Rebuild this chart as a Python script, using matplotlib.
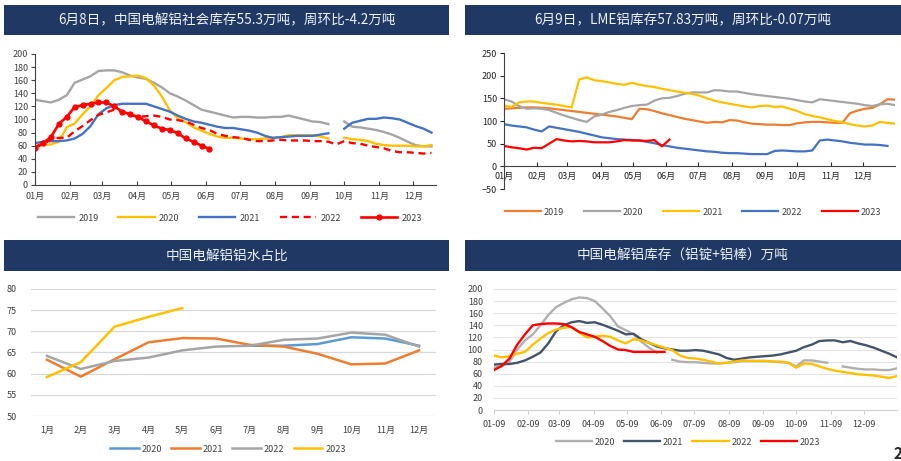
import numpy as np
import pandas as pd
import matplotlib
matplotlib.use('Agg')
import matplotlib.pyplot as plt
import matplotlib.dates as mdates
from matplotlib.patches import Rectangle

plt.rcParams['font.family'] = ['Noto Sans CJK SC', 'DejaVu Sans']
nan = np.nan

# ---- panel 1: China social inventory (weekly, 10k t) ----
p1_2019 = [130, 128, 126, 130, 137, 156, 161, 166, 174, 175, 175, 172, 167, 164, 162, 156, 149, 140, 135, 129,
           122, 115, 112, 109, 106, 103, 104, 104, 103, 103, 104, 104, 106, 103, 100, 97, 96, 93, nan, 97,
           89, 88, 86, 84, 81, 77, 72, 66, 61, 59, 59]
p1_2020 = [60, 61, 62, 66, 88, 94, 108, 120, 137, 148, 160, 165, 166, 167, 163, 152, 135, 114, 102, 96,
           88, 83, 78, 74, 72, 72, 71, 70, 70, 71, 72, 73, 76, 76, 76, 76, 74, 71, nan, 72,
           70, 69, 67, 63, 61, 60, 60, 60, 59, 59, 61]
p1_2021 = [64, 66, 67, 67, 68, 71, 78, 90, 108, 117, 122, 124, 124, 124, 124, 120, 116, 112, 106, 101,
           97, 95, 92, 89, 87, 87, 85, 83, 80, 75, 72, 73, 74, 75, 75, 75, 77, 79, nan, 86,
           95, 98, 101, 101, 103, 102, 100, 95, 90, 86, 80]
p1_2022 = [58, 62, 70, 72, 72, 82, 90, 99, 107, 111, 115, 112, 107, 104, 105, 106, 104, 100, 99, 97,
           92, 87, 84, 78, 75, 73, 72, 69, 67, 67, 68, 69, 68, 68, 68, 67, 67, 66, 62, 67,
           64, 63, 60, 58, 56, 52, 50, 50, 49, 48, 49]
p1_2023 = [57, 64, 73, 93, 104, 119, 122, 124, 126, 126, 120, 112, 108, 104, 97, 91, 86, 84, 79, 71, 66, 60, 55]

# ---- panel 2: LME inventory ----
p2_2019 = [127, 128, 129, 130, 130, 129, 128, 126, 124, 122, 120, 118, 116, 114, 112, 110, 107, 104, 127, 126,
           122, 117, 113, 109, 105, 102, 99, 96, 98, 97, 102, 101, 97, 94, 93, 92, 92, 91, 91, 95,
           97, 98, 98, 97, 96, 96, 117, 123, 127, 129, 137, 148, 147]
p2_2020 = [148, 143, 133, 127, 128, 127, 124, 118, 112, 107, 102, 98, 110, 114, 120, 124, 129, 133, 135, 136,
           145, 150, 151, 155, 160, 163, 163, 163, 168, 167, 165, 165, 162, 159, 157, 155, 153, 151, 149, 146,
           143, 141, 148, 146, 144, 142, 140, 138, 135, 133, 137, 138, 135]
p2_2021 = [134, 131, 141, 143, 143, 140, 138, 136, 133, 130, 192, 196, 190, 188, 185, 182, 180, 184, 180, 177,
           175, 171, 168, 165, 162, 160, 156, 150, 145, 141, 138, 135, 132, 130, 133, 134, 131, 132, 127, 122,
           115, 111, 108, 104, 100, 97, 93, 90, 88, 90, 98, 96, 94]
p2_2022 = [93, 90, 88, 86, 81, 77, 88, 85, 82, 79, 76, 72, 68, 64, 62, 60, 59, 58, 57, 54,
           51, 47, 44, 41, 39, 37, 35, 33, 32, 30, 29, 29, 28, 27, 27, 27, 34, 35, 34, 33,
           33, 35, 57, 59, 57, 55, 52, 50, 48, 48, 47, 45, nan]
p2_2023 = [45, 42, 40, 37, 41, 40, 50, 60, 57, 55, 56, 55, 53, 53, 53, 55, 58, 57, 57, 56, 58, 44, 59]

# ---- panel 3: molten aluminium share (%) ----
months3 = ['1月', '2月', '3月', '4月', '5月', '6月', '7月', '8月', '9月', '10月', '11月', '12月']
p3_2020 = [nan, nan, nan, nan, nan, nan, 66.6, 66.6, 67.0, 68.6, 68.3, 66.6]
p3_2021 = [63.3, 59.3, 63.4, 67.4, 68.4, 68.3, 66.8, 66.4, 64.7, 62.2, 62.4, 65.5]
p3_2022 = [64.2, 61.1, 63.0, 63.8, 65.5, 66.4, 66.6, 68.0, 68.3, 69.7, 69.2, 66.4]
p3_2023 = [59.2, 62.7, 71.1, 73.4, 75.5]

# ---- panel 4: ingot + billet inventory ----
p4_2020 = [70, 72, 80, 100, 115, 125, 140, 157, 170, 177, 183, 186, 185, 180, 168, 155, 138, 132, 125, 113,
           103, 95, nan, 83, 80, 79, 79, 78, 77, 77, 78, 79, 81, 81, 81, 81, 80, 79, 78, 72,
           82, 82, 80, 78, nan, 72, 70, 68, 67, 67, 66, 66, 69]
p4_2021 = [75, 76, 76, 78, 82, 88, 95, 110, 130, 140, 145, 147, 144, 145, 141, 136, 131, 125, 126, 117,
           111, 105, 102, 100, 98, 98, 99, 98, 95, 92, 86, 83, 85, 87, 88, 89, 90, 92, 95, 98,
           104, 108, 114, 115, 115, 112, 114, 110, 107, 103, 98, 93, 87]
p4_2022 = [90, 87, 89, 93, 96, 108, 118, 127, 133, 136, 137, 128, 120, 121, 123, 121, 115, 110, 117, 115,
           111, 107, 103, 99, 90, 86, 85, 83, 80, 77, 78, 80, 82, 81, 81, 81, 80, 80, 78, 70,
           77, 76, 72, 68, 65, 63, 61, 59, 58, 57, 55, 53, 56]
p4_2023 = [66, 73, 85, 108, 125, 140, 142, 143, 143, 142, 137, 129, 125, 121, 114, 106, 100, 99, 96, 96, 96, 96, 96]

titles = ['6月8日，中国电解铝社会库存55.3万吨，周环比-4.2万吨',
          '6月9日，LME铝库存57.83万吨，周环比-0.07万吨',
          '中国电解铝铝水占比',
          '中国电解铝库存（铝锭+铝棒）万吨']

W, H = 901, 461
NAVY = '#1F3864'
GRAY, YEL, BLUE, RED, ORG = '#A5A5A5', '#FFC000', '#4472C4', '#FF0000', '#ED7D31'


def box(l, t, r, b):
    return [l / W, 1 - b / H, (r - l) / W, (b - t) / H]


def weeks(start, vals):
    return pd.date_range(start, periods=len(vals), freq='7D')


fig = plt.figure(figsize=(W / 100, H / 100), dpi=100)
fig.patch.set_facecolor('white')

# banners
for (l, t, r, b), title in zip([(4, 5, 449, 35), (465, 5, 901, 35), (4, 240, 449, 271), (465, 240, 901, 271)], titles):
    fig.add_artist(Rectangle((l / W, 1 - b / H), (r - l) / W, (b - t) / H,
                             transform=fig.transFigure, facecolor=NAVY, edgecolor='none'))
    fig.text((l + r) / 2 / W, 1 - (t + b) / 2 / H, title, color='#EEF1F7',
             fontsize=9.8, ha='center', va='center')

month_starts = pd.date_range('2001-01-01', periods=12, freq='MS')

# ---- panel 1 ----
ax1 = fig.add_axes(box(35, 54, 436, 185))
ax1.plot(weeks('2001-01-01', p1_2019), p1_2019, color=GRAY, lw=1.7, label='2019')
ax1.plot(weeks('2001-01-01', p1_2020), p1_2020, color=YEL, lw=1.7, label='2020')
ax1.plot(weeks('2001-01-01', p1_2021), p1_2021, color=BLUE, lw=1.7, label='2021')
ax1.plot(weeks('2001-01-01', p1_2022), p1_2022, color=RED, lw=1.7, ls=(0, (3, 2)), label='2022')
ax1.plot(weeks('2001-01-01', p1_2023), p1_2023, color=RED, lw=1.9, marker='o', ms=3.5, label='2023')
ax1.set_ylim(0, 200)
ax1.set_yticks(range(0, 201, 20))
ax1.set_xlim(pd.Timestamp('2001-01-01'), pd.Timestamp('2001-12-21'))
ax1.set_xticks(month_starts)
ax1.xaxis.set_major_formatter(mdates.DateFormatter('%m月'))
for s in ['top', 'right']:
    ax1.spines[s].set_visible(False)
for s in ['left', 'bottom']:
    ax1.spines[s].set_color('#404040')
ax1.tick_params(axis='x', direction='in', length=3, labelsize=6.5, colors='#404040', pad=5)
ax1.tick_params(axis='y', direction='out', length=3, labelsize=6.5, colors='#404040', pad=2)
fig.legend(*ax1.get_legend_handles_labels(), loc='center', bbox_to_anchor=(230 / W, 1 - 218 / H),
           ncol=5, frameon=False, fontsize=6.5, handlelength=4, columnspacing=2.2, handletextpad=0.5,
           labelcolor='#404040')

# ---- panel 2 ----
ax2 = fig.add_axes(box(504, 53, 895, 189))
ax2.plot(weeks('2001-01-01', p2_2019), p2_2019, color=ORG, lw=1.6, label='2019')
ax2.plot(weeks('2001-01-01', p2_2020), p2_2020, color=GRAY, lw=1.6, label='2020')
ax2.plot(weeks('2001-01-01', p2_2021), p2_2021, color=YEL, lw=1.6, label='2021')
ax2.plot(weeks('2001-01-01', p2_2022), p2_2022, color=BLUE, lw=1.6, label='2022')
ax2.plot(weeks('2001-01-01', p2_2023), p2_2023, color=RED, lw=1.6, label='2023')
ax2.set_ylim(-50, 250)
ax2.set_yticks(range(-50, 251, 50))
ax2.set_xlim(pd.Timestamp('2001-01-01'), pd.Timestamp('2001-12-31'))
ax2.set_xticks(month_starts)
ax2.xaxis.set_major_formatter(mdates.DateFormatter('%m月'))
ax2.spines['bottom'].set_position(('data', 0))
for s in ['top', 'right']:
    ax2.spines[s].set_visible(False)
for s in ['left', 'bottom']:
    ax2.spines[s].set_color('#404040')
ax2.tick_params(axis='x', direction='in', length=3, labelsize=6.5, colors='#262626', pad=4)
ax2.tick_params(axis='y', direction='out', length=3, labelsize=6.5, colors='#262626', pad=2)
fig.legend(*ax2.get_legend_handles_labels(), loc='center', bbox_to_anchor=(693 / W, 1 - 212 / H),
           ncol=5, frameon=False, fontsize=6.5, handlelength=4, columnspacing=2.2, handletextpad=0.3,
           labelcolor='#404040')

# ---- panel 3 ----
ax3 = fig.add_axes(box(31, 289, 436, 416))
x3 = np.arange(len(months3))
ax3.plot(x3, p3_2020, color='#5B9BD5', lw=1.8, label='2020')
ax3.plot(x3, p3_2021, color=ORG, lw=1.8, label='2021')
ax3.plot(x3, p3_2022, color=GRAY, lw=1.8, label='2022')
ax3.plot(x3[:len(p3_2023)], p3_2023, color=YEL, lw=1.8, label='2023')
ax3.set_ylim(50, 80)
ax3.set_yticks(range(50, 81, 5))
ax3.set_xlim(-0.47, 11.5)
ax3.set_xticks(x3)
ax3.set_xticklabels(months3)
ax3.grid(axis='y', color='#D9D9D9', lw=0.9)
ax3.set_axisbelow(True)
for s in ax3.spines.values():
    s.set_visible(False)
ax3.tick_params(length=0, labelsize=6.5, colors='#404040')
ax3.tick_params(axis='x', pad=7)
ax3.tick_params(axis='y', pad=10)
fig.legend(*ax3.get_legend_handles_labels(), loc='center', bbox_to_anchor=(228 / W, 1 - 449 / H),
           ncol=4, frameon=False, fontsize=6.5, handlelength=3.2, columnspacing=1.0, handletextpad=0.3,
           labelcolor='#404040')

# ---- panel 4 ----
ax4 = fig.add_axes(box(494, 289, 897, 410))
ax4.plot(weeks('2001-01-09', p4_2020), p4_2020, color='#B0B0B0', lw=1.7, label='2020')
ax4.plot(weeks('2001-01-09', p4_2021), p4_2021, color='#44546A', lw=1.7, label='2021')
ax4.plot(weeks('2001-01-09', p4_2022), p4_2022, color=YEL, lw=1.7, label='2022')
ax4.plot(weeks('2001-01-09', p4_2023), p4_2023, color=RED, lw=1.7, label='2023')
ax4.set_ylim(0, 200)
ax4.set_yticks(range(0, 201, 20))
ax4.set_xlim(pd.Timestamp('2001-01-09'), pd.Timestamp('2002-01-08'))
ax4.set_xticks(month_starts + pd.Timedelta(days=8))
ax4.xaxis.set_major_formatter(mdates.DateFormatter('%m-%d'))
ax4.grid(axis='y', color='#E3E3E3', lw=0.8)
ax4.set_axisbelow(True)
for s in ['top', 'right', 'left']:
    ax4.spines[s].set_visible(False)
ax4.spines['bottom'].set_color('#D0D0D0')
ax4.tick_params(axis='x', direction='out', length=3, color='#D0D0D0', labelsize=6.5, labelcolor='#404040', pad=4)
ax4.tick_params(axis='y', length=0, labelsize=6.5, labelcolor='#404040', pad=8)
fig.legend(*ax4.get_legend_handles_labels(), loc='center', bbox_to_anchor=(688 / W, 1 - 442 / H),
           ncol=4, frameon=False, fontsize=6.5, handlelength=4, columnspacing=1.0, handletextpad=0.3,
           labelcolor='#404040')

fig.text(893 / W, 1 - 454 / H, '2', fontsize=11, fontweight='bold', color='#262626', ha='left', va='center')

fig.savefig('out.png', dpi=100)
